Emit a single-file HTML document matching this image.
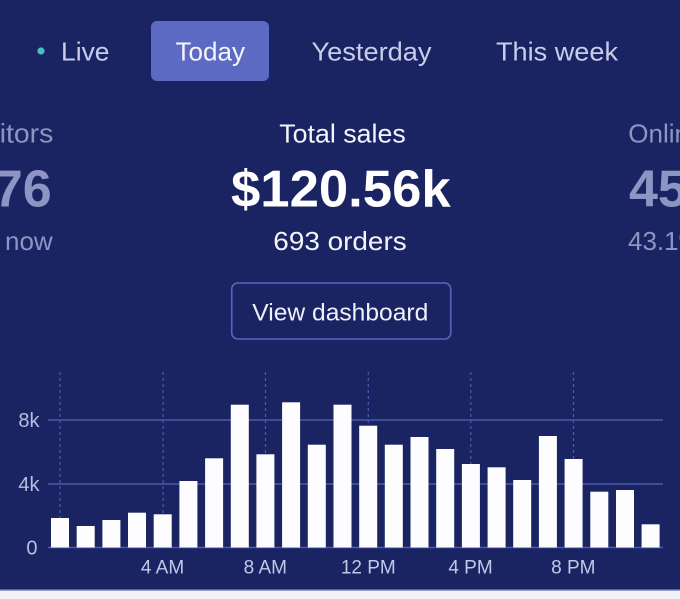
<!DOCTYPE html>
<html>
<head>
<meta charset="utf-8">
<style>
html,body{margin:0;padding:0;background:#1b2462;overflow:hidden;}
svg{display:block;}
text{font-family:"Liberation Sans",Arial,sans-serif;}
</style>
</head>
<body>
<svg width="680" height="599" viewBox="0 0 680 599" xmlns="http://www.w3.org/2000/svg">
  <rect x="0" y="0" width="680" height="599" fill="#1b2462"/>

  <!-- Tabs -->
  <circle cx="41" cy="51" r="3.6" fill="#47c1bf"/>
  <text x="61" y="60.5" font-size="26" fill="#c9cdea" textLength="48.5" lengthAdjust="spacingAndGlyphs">Live</text>
  <rect x="151" y="21" width="118" height="60" rx="6" fill="#5c6ac4"/>
  <text x="175.5" y="60.5" font-size="26" fill="#f4f5fb" textLength="69.5" lengthAdjust="spacingAndGlyphs">Today</text>
  <text x="311.5" y="60.5" font-size="26" fill="#c9cdea" textLength="120" lengthAdjust="spacingAndGlyphs">Yesterday</text>
  <text x="496" y="60.5" font-size="26" fill="#c9cdea" textLength="122" lengthAdjust="spacingAndGlyphs">This week</text>

  <!-- Left column (clipped) -->
  <text x="-39.2" y="142.7" font-size="27" fill="#8e95c4" textLength="92.5" lengthAdjust="spacingAndGlyphs">Visitors</text>
  <text x="51.7" y="206.5" font-size="52" font-weight="bold" fill="#8e95c4" text-anchor="end">276</text>
  <text x="52.7" y="250" font-size="26" fill="#8e95c4" text-anchor="end">right now</text>

  <!-- Center column -->
  <text x="279.3" y="142.7" font-size="26" fill="#f4f5fb" textLength="126.4" lengthAdjust="spacingAndGlyphs">Total sales</text>
  <text x="231" y="206.5" font-size="52" font-weight="bold" fill="#ffffff" textLength="219.7" lengthAdjust="spacingAndGlyphs">$120.56k</text>
  <text x="273.3" y="250" font-size="26" fill="#f4f5fb" textLength="133.4" lengthAdjust="spacingAndGlyphs">693 orders</text>

  <rect x="231.75" y="283" width="219" height="56" rx="6" fill="none" stroke="#5566c0" stroke-width="1.6"/>
  <text x="252.3" y="320.6" font-size="24.5" fill="#eef0fa" textLength="176" lengthAdjust="spacingAndGlyphs">View dashboard</text>

  <!-- Right column (clipped) -->
  <text x="628.3" y="142.7" font-size="26" fill="#8e95c4">Online sessions</text>
  <text x="629" y="206.5" font-size="52" font-weight="bold" fill="#8e95c4">452</text>
  <text x="628" y="250" font-size="26" fill="#8e95c4">43.1% returning</text>

  <!-- Chart grid -->
  <g stroke="#4a5aad" stroke-width="1.5">
    <line x1="48" y1="420" x2="663" y2="420"/>
    <line x1="48" y1="484" x2="663" y2="484"/>
    <line x1="48" y1="547.5" x2="663" y2="547.5"/>
  </g>
  <g stroke="#4a5aad" stroke-width="1.2" stroke-dasharray="3,3">
    <line x1="60" y1="372" x2="60" y2="547"/>
    <line x1="163" y1="372" x2="163" y2="547"/>
    <line x1="265.5" y1="372" x2="265.5" y2="547"/>
    <line x1="368.3" y1="372" x2="368.3" y2="547"/>
    <line x1="470.8" y1="372" x2="470.8" y2="547"/>
    <line x1="573.5" y1="372" x2="573.5" y2="547"/>
  </g>

  <!-- Bars -->
  <g fill="#fdfdff">
    <rect x="51" y="518" width="18" height="29.5"/>
    <rect x="76.7" y="526" width="18" height="21.5"/>
    <rect x="102.4" y="520" width="18" height="27.5"/>
    <rect x="128" y="512.7" width="18" height="34.8"/>
    <rect x="153.7" y="514.3" width="18" height="33.2"/>
    <rect x="179.4" y="481" width="18" height="66.5"/>
    <rect x="205.1" y="458.3" width="18" height="89.2"/>
    <rect x="230.8" y="404.7" width="18" height="142.8"/>
    <rect x="256.4" y="454.3" width="18" height="93.2"/>
    <rect x="282.1" y="402.3" width="18" height="145.2"/>
    <rect x="307.8" y="444.7" width="18" height="102.8"/>
    <rect x="333.5" y="404.7" width="18" height="142.8"/>
    <rect x="359.2" y="425.7" width="18" height="121.8"/>
    <rect x="384.8" y="444.7" width="18" height="102.8"/>
    <rect x="410.5" y="437" width="18" height="110.5"/>
    <rect x="436.2" y="449" width="18" height="98.5"/>
    <rect x="461.9" y="464" width="18" height="83.5"/>
    <rect x="487.6" y="467.3" width="18" height="80.2"/>
    <rect x="513.2" y="480" width="18" height="67.5"/>
    <rect x="538.9" y="436" width="18" height="111.5"/>
    <rect x="564.6" y="459" width="18" height="88.5"/>
    <rect x="590.3" y="491.7" width="18" height="55.8"/>
    <rect x="616" y="490" width="18" height="57.5"/>
    <rect x="641.6" y="524.3" width="18" height="23.2"/>
  </g>

  <!-- Y labels -->
  <g font-size="20" fill="#b9bee2" text-anchor="end">
    <text x="39.5" y="427">8k</text>
    <text x="39.5" y="491">4k</text>
    <text x="37.5" y="554.5">0</text>
  </g>

  <!-- X labels -->
  <g font-size="19" fill="#c3c8e8" text-anchor="middle">
    <text x="162.5" y="573.5">4 AM</text>
    <text x="265.3" y="573.5">8 AM</text>
    <text x="368.3" y="573.5">12 PM</text>
    <text x="470.5" y="573.5">4 PM</text>
    <text x="573.3" y="573.5">8 PM</text>
  </g>

  <!-- Bottom light strip -->
  <rect x="0" y="589.5" width="680" height="1.5" fill="#9aa0c4"/>
  <rect x="0" y="591" width="680" height="8" fill="#f3f3f7"/>
</svg>
</body>
</html>
